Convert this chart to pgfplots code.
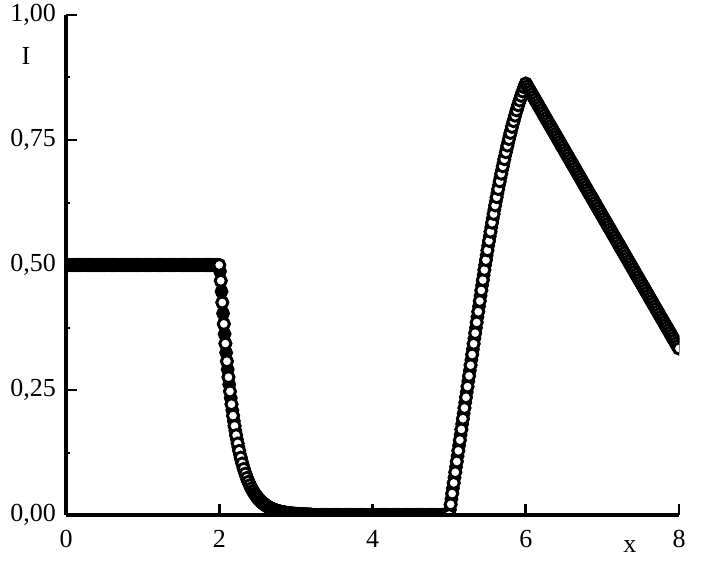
\documentclass[border=0pt]{standalone}
\usepackage{fontspec}
\setmainfont{Liberation Serif}
\usepackage{pgfplots}
\usepackage{pgfplotstable}
\pgfplotsset{compat=1.18}
\newcommand\lbl{\fontsize{15.6}{18}\selectfont}

% intensity profile I(x), step 0.01
\pgfplotstableread[row sep=\\]{
x y\\
0.00 0.5\\ 0.01 0.5\\ 0.02 0.5\\ 0.03 0.5\\ 0.04 0.5\\ 0.05 0.5\\ 0.06 0.5\\ 0.07 0.5\\ 0.08 0.5\\ 0.09 0.5\\
0.10 0.5\\ 0.11 0.5\\ 0.12 0.5\\ 0.13 0.5\\ 0.14 0.5\\ 0.15 0.5\\ 0.16 0.5\\ 0.17 0.5\\ 0.18 0.5\\ 0.19 0.5\\
0.20 0.5\\ 0.21 0.5\\ 0.22 0.5\\ 0.23 0.5\\ 0.24 0.5\\ 0.25 0.5\\ 0.26 0.5\\ 0.27 0.5\\ 0.28 0.5\\ 0.29 0.5\\
0.30 0.5\\ 0.31 0.5\\ 0.32 0.5\\ 0.33 0.5\\ 0.34 0.5\\ 0.35 0.5\\ 0.36 0.5\\ 0.37 0.5\\ 0.38 0.5\\ 0.39 0.5\\
0.40 0.5\\ 0.41 0.5\\ 0.42 0.5\\ 0.43 0.5\\ 0.44 0.5\\ 0.45 0.5\\ 0.46 0.5\\ 0.47 0.5\\ 0.48 0.5\\ 0.49 0.5\\
0.50 0.5\\ 0.51 0.5\\ 0.52 0.5\\ 0.53 0.5\\ 0.54 0.5\\ 0.55 0.5\\ 0.56 0.5\\ 0.57 0.5\\ 0.58 0.5\\ 0.59 0.5\\
0.60 0.5\\ 0.61 0.5\\ 0.62 0.5\\ 0.63 0.5\\ 0.64 0.5\\ 0.65 0.5\\ 0.66 0.5\\ 0.67 0.5\\ 0.68 0.5\\ 0.69 0.5\\
0.70 0.5\\ 0.71 0.5\\ 0.72 0.5\\ 0.73 0.5\\ 0.74 0.5\\ 0.75 0.5\\ 0.76 0.5\\ 0.77 0.5\\ 0.78 0.5\\ 0.79 0.5\\
0.80 0.5\\ 0.81 0.5\\ 0.82 0.5\\ 0.83 0.5\\ 0.84 0.5\\ 0.85 0.5\\ 0.86 0.5\\ 0.87 0.5\\ 0.88 0.5\\ 0.89 0.5\\
0.90 0.5\\ 0.91 0.5\\ 0.92 0.5\\ 0.93 0.5\\ 0.94 0.5\\ 0.95 0.5\\ 0.96 0.5\\ 0.97 0.5\\ 0.98 0.5\\ 0.99 0.5\\
1.00 0.5\\ 1.01 0.5\\ 1.02 0.5\\ 1.03 0.5\\ 1.04 0.5\\ 1.05 0.5\\ 1.06 0.5\\ 1.07 0.5\\ 1.08 0.5\\ 1.09 0.5\\
1.10 0.5\\ 1.11 0.5\\ 1.12 0.5\\ 1.13 0.5\\ 1.14 0.5\\ 1.15 0.5\\ 1.16 0.5\\ 1.17 0.5\\ 1.18 0.5\\ 1.19 0.5\\
1.20 0.5\\ 1.21 0.5\\ 1.22 0.5\\ 1.23 0.5\\ 1.24 0.5\\ 1.25 0.5\\ 1.26 0.5\\ 1.27 0.5\\ 1.28 0.5\\ 1.29 0.5\\
1.30 0.5\\ 1.31 0.5\\ 1.32 0.5\\ 1.33 0.5\\ 1.34 0.5\\ 1.35 0.5\\ 1.36 0.5\\ 1.37 0.5\\ 1.38 0.5\\ 1.39 0.5\\
1.40 0.5\\ 1.41 0.5\\ 1.42 0.5\\ 1.43 0.5\\ 1.44 0.5\\ 1.45 0.5\\ 1.46 0.5\\ 1.47 0.5\\ 1.48 0.5\\ 1.49 0.5\\
1.50 0.5\\ 1.51 0.5\\ 1.52 0.5\\ 1.53 0.5\\ 1.54 0.5\\ 1.55 0.5\\ 1.56 0.5\\ 1.57 0.5\\ 1.58 0.5\\ 1.59 0.5\\
1.60 0.5\\ 1.61 0.5\\ 1.62 0.5\\ 1.63 0.5\\ 1.64 0.5\\ 1.65 0.5\\ 1.66 0.5\\ 1.67 0.5\\ 1.68 0.5\\ 1.69 0.5\\
1.70 0.5\\ 1.71 0.5\\ 1.72 0.5\\ 1.73 0.5\\ 1.74 0.5\\ 1.75 0.5\\ 1.76 0.5\\ 1.77 0.5\\ 1.78 0.5\\ 1.79 0.5\\
1.80 0.5\\ 1.81 0.5\\ 1.82 0.5\\ 1.83 0.5\\ 1.84 0.5\\ 1.85 0.5\\ 1.86 0.5\\ 1.87 0.5\\ 1.88 0.5\\ 1.89 0.5\\
1.90 0.5\\ 1.91 0.5\\ 1.92 0.5\\ 1.93 0.5\\ 1.94 0.5\\ 1.95 0.5\\ 1.96 0.5\\ 1.97 0.5\\ 1.98 0.5\\ 1.99 0.5\\
2.00 0.5000\\ 2.01 0.4874\\ 2.02 0.4685\\ 2.03 0.4471\\ 2.04 0.4250\\ 2.05 0.4032\\ 2.06 0.3822\\ 2.07 0.3621\\ 2.08 0.3429\\ 2.09 0.3247\\
2.10 0.3075\\ 2.11 0.2912\\ 2.12 0.2757\\ 2.13 0.2611\\ 2.14 0.2472\\ 2.15 0.2340\\ 2.16 0.2216\\ 2.17 0.2098\\ 2.18 0.1987\\ 2.19 0.1881\\
2.20 0.1781\\ 2.21 0.1687\\ 2.22 0.1597\\ 2.23 0.1512\\ 2.24 0.1432\\ 2.25 0.1356\\ 2.26 0.1284\\ 2.27 0.1215\\ 2.28 0.1151\\ 2.29 0.1090\\
2.30 0.1032\\ 2.31 0.0977\\ 2.32 0.0925\\ 2.33 0.0876\\ 2.34 0.0829\\ 2.35 0.0785\\ 2.36 0.0744\\ 2.37 0.0704\\ 2.38 0.0667\\ 2.39 0.0631\\
2.40 0.0598\\ 2.41 0.0566\\ 2.42 0.0536\\ 2.43 0.0507\\ 2.44 0.0480\\ 2.45 0.0455\\ 2.46 0.0431\\ 2.47 0.0408\\ 2.48 0.0386\\ 2.49 0.0366\\
2.50 0.0346\\ 2.51 0.0328\\ 2.52 0.0310\\ 2.53 0.0294\\ 2.54 0.0278\\ 2.55 0.0263\\ 2.56 0.0249\\ 2.57 0.0236\\ 2.58 0.0224\\ 2.59 0.0212\\
2.60 0.0201\\ 2.61 0.0190\\ 2.62 0.0180\\ 2.63 0.0170\\ 2.64 0.0161\\ 2.65 0.0153\\ 2.66 0.0145\\ 2.67 0.0137\\ 2.68 0.0130\\ 2.69 0.0123\\
2.70 0.0116\\ 2.71 0.0110\\ 2.72 0.0104\\ 2.73 0.0099\\ 2.74 0.0093\\ 2.75 0.0088\\ 2.76 0.0084\\ 2.77 0.0079\\ 2.78 0.0075\\ 2.79 0.0071\\
2.80 0.0067\\ 2.81 0.0064\\ 2.82 0.0060\\ 2.83 0.0057\\ 2.84 0.0054\\ 2.85 0.0051\\ 2.86 0.0048\\ 2.87 0.0046\\ 2.88 0.0043\\ 2.89 0.0041\\
2.90 0.0039\\ 2.91 0.0037\\ 2.92 0.0035\\ 2.93 0.0033\\ 2.94 0.0031\\ 2.95 0.0030\\ 2.96 0.0028\\ 2.97 0.0027\\ 2.98 0.0025\\ 2.99 0.0024\\
3.00 0.0023\\ 3.01 0.0022\\ 3.02 0.0020\\ 3.03 0.0019\\ 3.04 0.0018\\ 3.05 0.0017\\ 3.06 0.0016\\ 3.07 0.0015\\ 3.08 0.0014\\ 3.09 0.0014\\
3.10 0.0013\\ 3.11 0.0012\\ 3.12 0.0011\\ 3.13 0.0011\\ 3.14 0.0010\\ 3.15 0.0010\\ 3.16 0.0009\\ 3.17 0.0009\\ 3.18 0.0008\\ 3.19 0.0008\\
3.20 0.0007\\ 3.21 0\\ 3.22 0\\ 3.23 0\\ 3.24 0\\ 3.25 0\\ 3.26 0\\ 3.27 0\\ 3.28 0\\ 3.29 0\\
3.30 0\\ 3.31 0\\ 3.32 0\\ 3.33 0\\ 3.34 0\\ 3.35 0\\ 3.36 0\\ 3.37 0\\ 3.38 0\\ 3.39 0\\
3.40 0\\ 3.41 0\\ 3.42 0\\ 3.43 0\\ 3.44 0\\ 3.45 0\\ 3.46 0\\ 3.47 0\\ 3.48 0\\ 3.49 0\\
3.50 0\\ 3.51 0\\ 3.52 0\\ 3.53 0\\ 3.54 0\\ 3.55 0\\ 3.56 0\\ 3.57 0\\ 3.58 0\\ 3.59 0\\
3.60 0\\ 3.61 0\\ 3.62 0\\ 3.63 0\\ 3.64 0\\ 3.65 0\\ 3.66 0\\ 3.67 0\\ 3.68 0\\ 3.69 0\\
3.70 0\\ 3.71 0\\ 3.72 0\\ 3.73 0\\ 3.74 0\\ 3.75 0\\ 3.76 0\\ 3.77 0\\ 3.78 0\\ 3.79 0\\
3.80 0\\ 3.81 0\\ 3.82 0\\ 3.83 0\\ 3.84 0\\ 3.85 0\\ 3.86 0\\ 3.87 0\\ 3.88 0\\ 3.89 0\\
3.90 0\\ 3.91 0\\ 3.92 0\\ 3.93 0\\ 3.94 0\\ 3.95 0\\ 3.96 0\\ 3.97 0\\ 3.98 0\\ 3.99 0\\
4.00 0\\ 4.01 0\\ 4.02 0\\ 4.03 0\\ 4.04 0\\ 4.05 0\\ 4.06 0\\ 4.07 0\\ 4.08 0\\ 4.09 0\\
4.10 0\\ 4.11 0\\ 4.12 0\\ 4.13 0\\ 4.14 0\\ 4.15 0\\ 4.16 0\\ 4.17 0\\ 4.18 0\\ 4.19 0\\
4.20 0\\ 4.21 0\\ 4.22 0\\ 4.23 0\\ 4.24 0\\ 4.25 0\\ 4.26 0\\ 4.27 0\\ 4.28 0\\ 4.29 0\\
4.30 0\\ 4.31 0\\ 4.32 0\\ 4.33 0\\ 4.34 0\\ 4.35 0\\ 4.36 0\\ 4.37 0\\ 4.38 0\\ 4.39 0\\
4.40 0\\ 4.41 0\\ 4.42 0\\ 4.43 0\\ 4.44 0\\ 4.45 0\\ 4.46 0\\ 4.47 0\\ 4.48 0\\ 4.49 0\\
4.50 0\\ 4.51 0\\ 4.52 0\\ 4.53 0\\ 4.54 0\\ 4.55 0\\ 4.56 0\\ 4.57 0\\ 4.58 0\\ 4.59 0\\
4.60 0\\ 4.61 0\\ 4.62 0\\ 4.63 0\\ 4.64 0\\ 4.65 0\\ 4.66 0\\ 4.67 0\\ 4.68 0\\ 4.69 0\\
4.70 0\\ 4.71 0\\ 4.72 0\\ 4.73 0\\ 4.74 0\\ 4.75 0\\ 4.76 0\\ 4.77 0\\ 4.78 0\\ 4.79 0\\
4.80 0\\ 4.81 0\\ 4.82 0\\ 4.83 0\\ 4.84 0\\ 4.85 0\\ 4.86 0\\ 4.87 0\\ 4.88 0\\ 4.89 0\\
4.90 0\\ 4.91 0\\ 4.92 0\\ 4.93 0\\ 4.94 0\\ 4.95 0\\ 4.96 0\\ 4.97 0\\ 4.98 0\\ 4.99 0\\
5.00 0\\ 5.01 0.0107\\ 5.02 0.0214\\ 5.03 0.0321\\ 5.04 0.0428\\ 5.05 0.0535\\ 5.06 0.0642\\ 5.07 0.0749\\ 5.08 0.0856\\ 5.09 0.0963\\
5.10 0.1070\\ 5.11 0.1177\\ 5.12 0.1284\\ 5.13 0.1391\\ 5.14 0.1498\\ 5.15 0.1605\\ 5.16 0.1712\\ 5.17 0.1819\\ 5.18 0.1926\\ 5.19 0.2033\\
5.20 0.2140\\ 5.21 0.2247\\ 5.22 0.2354\\ 5.23 0.2461\\ 5.24 0.2568\\ 5.25 0.2675\\ 5.26 0.2782\\ 5.27 0.2889\\ 5.28 0.2996\\ 5.29 0.3103\\
5.30 0.3210\\ 5.31 0.3317\\ 5.32 0.3424\\ 5.33 0.3531\\ 5.34 0.3638\\ 5.35 0.3745\\ 5.36 0.3852\\ 5.37 0.3959\\ 5.38 0.4066\\ 5.39 0.4173\\
5.40 0.4280\\ 5.41 0.4386\\ 5.42 0.4492\\ 5.43 0.4596\\ 5.44 0.4699\\ 5.45 0.4801\\ 5.46 0.4901\\ 5.47 0.5001\\ 5.48 0.5099\\ 5.49 0.5196\\
5.50 0.5293\\ 5.51 0.5387\\ 5.52 0.5481\\ 5.53 0.5574\\ 5.54 0.5665\\ 5.55 0.5756\\ 5.56 0.5845\\ 5.57 0.5933\\ 5.58 0.6020\\ 5.59 0.6105\\
5.60 0.6190\\ 5.61 0.6273\\ 5.62 0.6356\\ 5.63 0.6437\\ 5.64 0.6517\\ 5.65 0.6596\\ 5.66 0.6673\\ 5.67 0.6750\\ 5.68 0.6825\\ 5.69 0.6899\\
5.70 0.6973\\ 5.71 0.7044\\ 5.72 0.7115\\ 5.73 0.7185\\ 5.74 0.7253\\ 5.75 0.7321\\ 5.76 0.7387\\ 5.77 0.7452\\ 5.78 0.7516\\ 5.79 0.7578\\
5.80 0.7640\\ 5.81 0.7700\\ 5.82 0.7760\\ 5.83 0.7818\\ 5.84 0.7875\\ 5.85 0.7931\\ 5.86 0.7985\\ 5.87 0.8039\\ 5.88 0.8091\\ 5.89 0.8142\\
5.90 0.8193\\ 5.91 0.8241\\ 5.92 0.8289\\ 5.93 0.8336\\ 5.94 0.8381\\ 5.95 0.8426\\ 5.96 0.8469\\ 5.97 0.8511\\ 5.98 0.8552\\ 5.99 0.8591\\
6.00 0.86300\\ 6.01 0.86035\\ 6.02 0.85770\\ 6.03 0.85505\\ 6.04 0.85240\\ 6.05 0.84975\\ 6.06 0.84710\\ 6.07 0.84445\\ 6.08 0.84180\\ 6.09 0.83915\\
6.10 0.83650\\ 6.11 0.83385\\ 6.12 0.83120\\ 6.13 0.82855\\ 6.14 0.82590\\ 6.15 0.82325\\ 6.16 0.82060\\ 6.17 0.81795\\ 6.18 0.81530\\ 6.19 0.81265\\
6.20 0.81000\\ 6.21 0.80735\\ 6.22 0.80470\\ 6.23 0.80205\\ 6.24 0.79940\\ 6.25 0.79675\\ 6.26 0.79410\\ 6.27 0.79145\\ 6.28 0.78880\\ 6.29 0.78615\\
6.30 0.78350\\ 6.31 0.78085\\ 6.32 0.77820\\ 6.33 0.77555\\ 6.34 0.77290\\ 6.35 0.77025\\ 6.36 0.76760\\ 6.37 0.76495\\ 6.38 0.76230\\ 6.39 0.75965\\
6.40 0.75700\\ 6.41 0.75435\\ 6.42 0.75170\\ 6.43 0.74905\\ 6.44 0.74640\\ 6.45 0.74375\\ 6.46 0.74110\\ 6.47 0.73845\\ 6.48 0.73580\\ 6.49 0.73315\\
6.50 0.73050\\ 6.51 0.72785\\ 6.52 0.72520\\ 6.53 0.72255\\ 6.54 0.71990\\ 6.55 0.71725\\ 6.56 0.71460\\ 6.57 0.71195\\ 6.58 0.70930\\ 6.59 0.70665\\
6.60 0.70400\\ 6.61 0.70135\\ 6.62 0.69870\\ 6.63 0.69605\\ 6.64 0.69340\\ 6.65 0.69075\\ 6.66 0.68810\\ 6.67 0.68545\\ 6.68 0.68280\\ 6.69 0.68015\\
6.70 0.67750\\ 6.71 0.67485\\ 6.72 0.67220\\ 6.73 0.66955\\ 6.74 0.66690\\ 6.75 0.66425\\ 6.76 0.66160\\ 6.77 0.65895\\ 6.78 0.65630\\ 6.79 0.65365\\
6.80 0.65100\\ 6.81 0.64835\\ 6.82 0.64570\\ 6.83 0.64305\\ 6.84 0.64040\\ 6.85 0.63775\\ 6.86 0.63510\\ 6.87 0.63245\\ 6.88 0.62980\\ 6.89 0.62715\\
6.90 0.62450\\ 6.91 0.62185\\ 6.92 0.61920\\ 6.93 0.61655\\ 6.94 0.61390\\ 6.95 0.61125\\ 6.96 0.60860\\ 6.97 0.60595\\ 6.98 0.60330\\ 6.99 0.60065\\
7.00 0.59800\\ 7.01 0.59535\\ 7.02 0.59270\\ 7.03 0.59005\\ 7.04 0.58740\\ 7.05 0.58475\\ 7.06 0.58210\\ 7.07 0.57945\\ 7.08 0.57680\\ 7.09 0.57415\\
7.10 0.57150\\ 7.11 0.56885\\ 7.12 0.56620\\ 7.13 0.56355\\ 7.14 0.56090\\ 7.15 0.55825\\ 7.16 0.55560\\ 7.17 0.55295\\ 7.18 0.55030\\ 7.19 0.54765\\
7.20 0.54500\\ 7.21 0.54235\\ 7.22 0.53970\\ 7.23 0.53705\\ 7.24 0.53440\\ 7.25 0.53175\\ 7.26 0.52910\\ 7.27 0.52645\\ 7.28 0.52380\\ 7.29 0.52115\\
7.30 0.51850\\ 7.31 0.51585\\ 7.32 0.51320\\ 7.33 0.51055\\ 7.34 0.50790\\ 7.35 0.50525\\ 7.36 0.50260\\ 7.37 0.49995\\ 7.38 0.49730\\ 7.39 0.49465\\
7.40 0.49200\\ 7.41 0.48935\\ 7.42 0.48670\\ 7.43 0.48405\\ 7.44 0.48140\\ 7.45 0.47875\\ 7.46 0.47610\\ 7.47 0.47345\\ 7.48 0.47080\\ 7.49 0.46815\\
7.50 0.46550\\ 7.51 0.46285\\ 7.52 0.46020\\ 7.53 0.45755\\ 7.54 0.45490\\ 7.55 0.45225\\ 7.56 0.44960\\ 7.57 0.44695\\ 7.58 0.44430\\ 7.59 0.44165\\
7.60 0.43900\\ 7.61 0.43635\\ 7.62 0.43370\\ 7.63 0.43105\\ 7.64 0.42840\\ 7.65 0.42575\\ 7.66 0.42310\\ 7.67 0.42045\\ 7.68 0.41780\\ 7.69 0.41515\\
7.70 0.41250\\ 7.71 0.40985\\ 7.72 0.40720\\ 7.73 0.40455\\ 7.74 0.40190\\ 7.75 0.39925\\ 7.76 0.39660\\ 7.77 0.39395\\ 7.78 0.39130\\ 7.79 0.38865\\
7.80 0.38600\\ 7.81 0.38335\\ 7.82 0.38070\\ 7.83 0.37805\\ 7.84 0.37540\\ 7.85 0.37275\\ 7.86 0.37010\\ 7.87 0.36745\\ 7.88 0.36480\\ 7.89 0.36215\\
7.90 0.35950\\ 7.91 0.35685\\ 7.92 0.35420\\ 7.93 0.35155\\ 7.94 0.34890\\ 7.95 0.34625\\ 7.96 0.34360\\ 7.97 0.34095\\ 7.98 0.33830\\ 7.99 0.33565\\
8.00 0.33300\\
}\profile

\begin{document}
\begin{tikzpicture}
\begin{axis}[
	at={(0,0)}, anchor=south west,
	scale only axis, width=367.8pt, height=300pt,
	xmin=0, xmax=8, ymin=0, ymax=1,
	axis lines=left, axis line style={-, line width=2pt},
	axis on top,
	clip marker paths=true,
	xtick={0,2,4,6,8},
	ytick={0,0.25,0.5,0.75,1},
	minor ytick={0.125,0.375,0.625,0.875},
	tick align=inside,
	major tick length=6.6pt, minor tick length=2.6pt,
	tick style={black, line width=1.6pt},
	minor tick style={line width=1.2pt},
	/pgf/number format/assume math mode=true,
	tick label style={font=\lbl},
	yticklabel style={/pgf/number format/.cd, fixed, fixed zerofill, precision=2, use comma, /tikz/.cd, xshift=-2.6pt},
	xticklabel style={yshift=-5.6pt},
	xlabel={x}, ylabel={I},
	every axis x label/.style={at={(rel axis cs:0.92,0)}, anchor=base, yshift=-22.2pt, font=\lbl},
	every axis y label/.style={at={(rel axis cs:0,1)}, anchor=base, xshift=-24pt, yshift=-30pt, font=\lbl},
]
% dense solution, filled circles
\addplot[black, only marks, mark=*, mark size=3.3pt,
	mark options={draw=black, fill=black, line width=1.7pt}] table[x=x, y=y] {\profile};
% coarse solution, open circles (every second point)
\addplot[black, only marks, mark=*, mark size=3.3pt, each nth point=2,
	mark options={draw=black, fill=white, line width=1.7pt}] table[x=x, y=y] {\profile};
\end{axis}
\pgfresetboundingbox
\path[use as bounding box] (-39.6pt,-28.8pt) rectangle (385.2pt,309pt);
\end{tikzpicture}
\end{document}
